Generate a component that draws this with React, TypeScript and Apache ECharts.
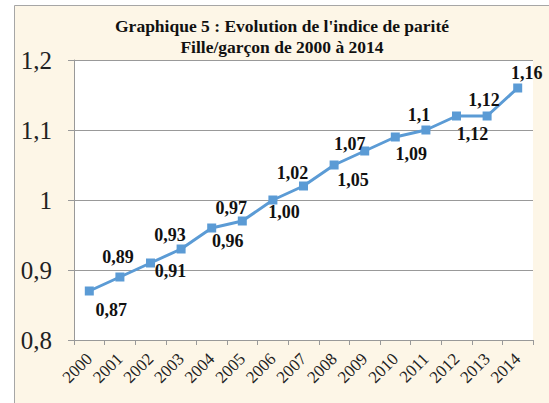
import React, { useEffect, useRef } from "react";
import * as echarts from "echarts";

const years = ["2000","2001","2002","2003","2004","2005","2006","2007","2008","2009","2010","2011","2012","2013","2014"];
const parityIndex = [0.87, 0.89, 0.91, 0.93, 0.96, 0.97, 1.0, 1.02, 1.05, 1.07, 1.09, 1.1, 1.12, 1.12, 1.16];
const labelTexts = ["0,87","0,89","0,91","0,93","0,96","0,97","1,00","1,02","1,05","1,07","1,09","1,1","1,12","1,12","1,16"];
const labelOffsets: [number, number][] = [
  [22, 19], [-2, -20], [20, 8], [-11, -14], [16, 13], [-11, -13], [11, 12], [-11, -13],
  [19, 15], [-15, -7], [16, 17], [-7, -15], [16, 18], [-3, -16], [9, -15],
];
const yTicks = ["0,8", "0,9", "1", "1,1", "1,2"];
const titleText = "Graphique 5 : Evolution de l'indice de parité\nFille/garçon de 2000 à 2014";

const serif = "'Liberation Serif', 'Times New Roman', serif";

export default function App() {
  const ref = useRef<HTMLDivElement>(null);
  useEffect(() => {
    document.body.style.margin = "0";
    const chart = echarts.init(ref.current!, null, { renderer: "svg" });
    chart.setOption({
      animation: false,
      backgroundColor: "#ffffff",
      graphic: [
        {
          type: "rect",
          z: -10,
          silent: true,
          shape: { x: 14.5, y: 5.5, width: 560, height: 420 },
          style: { fill: "#FDF6E7", stroke: "#a6a6a6", lineWidth: 1 },
        },
      ],
      title: {
        text: titleText,
        left: 277,
        textAlign: "center",
        top: 10,
        textStyle: { fontFamily: serif, fontWeight: "bold", fontSize: 17.5, lineHeight: 21, color: "#111" },
      },
      grid: {
        left: 74,
        right: 16,
        top: 60,
        bottom: 63,
        show: true,
        backgroundColor: "#ffffff",
        borderWidth: 0,
      },
      xAxis: {
        type: "category",
        data: years,
        boundaryGap: true,
        axisLine: { lineStyle: { color: "#999", width: 1 } },
        axisTick: { show: true, length: 5, alignWithLabel: false, lineStyle: { color: "#999" } },
        axisLabel: { rotate: 45, fontFamily: serif, fontSize: 17, color: "#222", margin: 16, interval: 0 },
      },
      yAxis: {
        type: "value",
        min: 0.8,
        max: 1.2,
        interval: 0.1,
        axisLine: { show: true, lineStyle: { color: "#999", width: 1 } },
        axisTick: { show: true, length: 6, lineStyle: { color: "#999" } },
        splitLine: { lineStyle: { color: "#999", width: 1 } },
        axisLabel: {
          fontFamily: serif,
          fontSize: 25,
          color: "#222",
          margin: 22,
          formatter: (v: number) => yTicks[Math.round((v - 0.8) * 10)] ?? "",
        },
      },
      series: [
        {
          type: "line",
          data: parityIndex.map((v, i) => ({
            value: v,
            label: { offset: labelOffsets[i] },
          })),
          symbol: "rect",
          symbolSize: 9,
          lineStyle: { color: "#5B9BD5", width: 3 },
          itemStyle: { color: "#5B9BD5" },
          label: {
            show: true,
            position: "inside",
            fontFamily: serif,
            fontWeight: "bold",
            fontSize: 18,
            color: "#111",
            formatter: (p: any) => labelTexts[p.dataIndex],
          },
        },
      ],
    });
    return () => chart.dispose();
  }, []);
  return <div ref={ref} style={{ width: 549, height: 403 }} />;
}
